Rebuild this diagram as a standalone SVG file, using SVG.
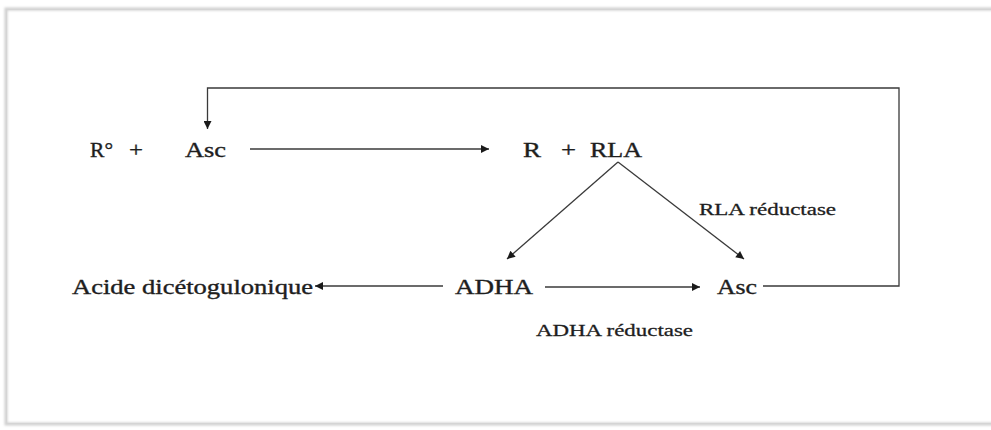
<svg xmlns="http://www.w3.org/2000/svg" width="991" height="430" viewBox="0 0 991 430">
  <style>
    .lbl { font-family: "Liberation Serif", "Times New Roman", serif; font-size: 20px; fill: #1e1e1e; stroke: #1e1e1e; stroke-width: 0.35; }
    .enz { font-family: "Liberation Serif", "Times New Roman", serif; font-size: 17.5px; fill: #1e1e1e; stroke: #1e1e1e; stroke-width: 0.3; }
    .ln { fill: none; stroke: #3a3a3a; stroke-width: 1.3; }
    .arr { marker-end: url(#head); }
  </style>
  <defs>
    <marker id="head" viewBox="0 0 10 10" refX="10" refY="5" markerWidth="10" markerHeight="8" markerUnits="userSpaceOnUse" orient="auto">
      <path d="M0,0 L10,5 L0,10 z" fill="#1a1a1a"/>
    </marker>
    <filter id="soft" x="-5%" y="-5%" width="110%" height="110%">
      <feGaussianBlur stdDeviation="1.2"/>
    </filter>
  </defs>

  <rect width="991" height="430" fill="#ffffff"/>

  <!-- page frame with soft shadow -->
  <g id="frame">
    <rect x="6" y="9" width="1000" height="415" fill="none" stroke="#cfcfcf" stroke-width="3" filter="url(#soft)"/>
    <rect x="6.5" y="9.5" width="1000" height="414" fill="none" stroke="#d4d4d4" stroke-width="1"/>
  </g>

  <!-- connectors -->
  <g id="connectors">
    <!-- R° + Asc to R + RLA -->
    <line class="ln arr" x1="250" y1="149" x2="489" y2="149"/>
    <!-- RLA splits to ADHA and Asc -->
    <polyline class="ln arr" points="618,162 507,259"/>
    <polyline class="ln arr" points="618,162 744,259"/>
    <!-- ADHA to acide dicétogulonique -->
    <line class="ln arr" x1="443" y1="286" x2="315" y2="286"/>
    <!-- ADHA to Asc -->
    <line class="ln arr" x1="545" y1="287" x2="700" y2="287"/>
    <!-- Asc recycled back to the top -->
    <polyline class="ln arr" points="763,286 899,286 899,88 207.5,88 207.5,129"/>
  </g>

  <!-- nodes -->
  <g id="n-radical">
    <text class="lbl" x="90" y="157" textLength="23" lengthAdjust="spacingAndGlyphs">R°</text>
    <text class="lbl" x="129" y="157" textLength="14" lengthAdjust="spacingAndGlyphs">+</text>
  </g>
  <g id="n-asc-top">
    <text class="lbl" x="185" y="157" textLength="41" lengthAdjust="spacingAndGlyphs">Asc</text>
  </g>
  <g id="n-r-rla">
    <text class="lbl" x="523" y="157" textLength="18" lengthAdjust="spacingAndGlyphs">R</text>
    <text class="lbl" x="561" y="157" textLength="15" lengthAdjust="spacingAndGlyphs">+</text>
    <text class="lbl" x="590" y="157" textLength="52" lengthAdjust="spacingAndGlyphs">RLA</text>
  </g>
  <g id="n-rla-reductase">
    <text class="enz" x="699" y="215" textLength="137" lengthAdjust="spacingAndGlyphs">RLA réductase</text>
  </g>
  <g id="n-acide">
    <text class="lbl" x="72" y="294" textLength="241" lengthAdjust="spacingAndGlyphs">Acide dicétogulonique</text>
  </g>
  <g id="n-adha">
    <text class="lbl" x="455" y="294" textLength="78" lengthAdjust="spacingAndGlyphs">ADHA</text>
  </g>
  <g id="n-asc-bottom">
    <text class="lbl" x="717" y="294" textLength="40" lengthAdjust="spacingAndGlyphs">Asc</text>
  </g>
  <g id="n-adha-reductase">
    <text class="enz" x="536" y="336" textLength="157" lengthAdjust="spacingAndGlyphs">ADHA réductase</text>
  </g>
</svg>
